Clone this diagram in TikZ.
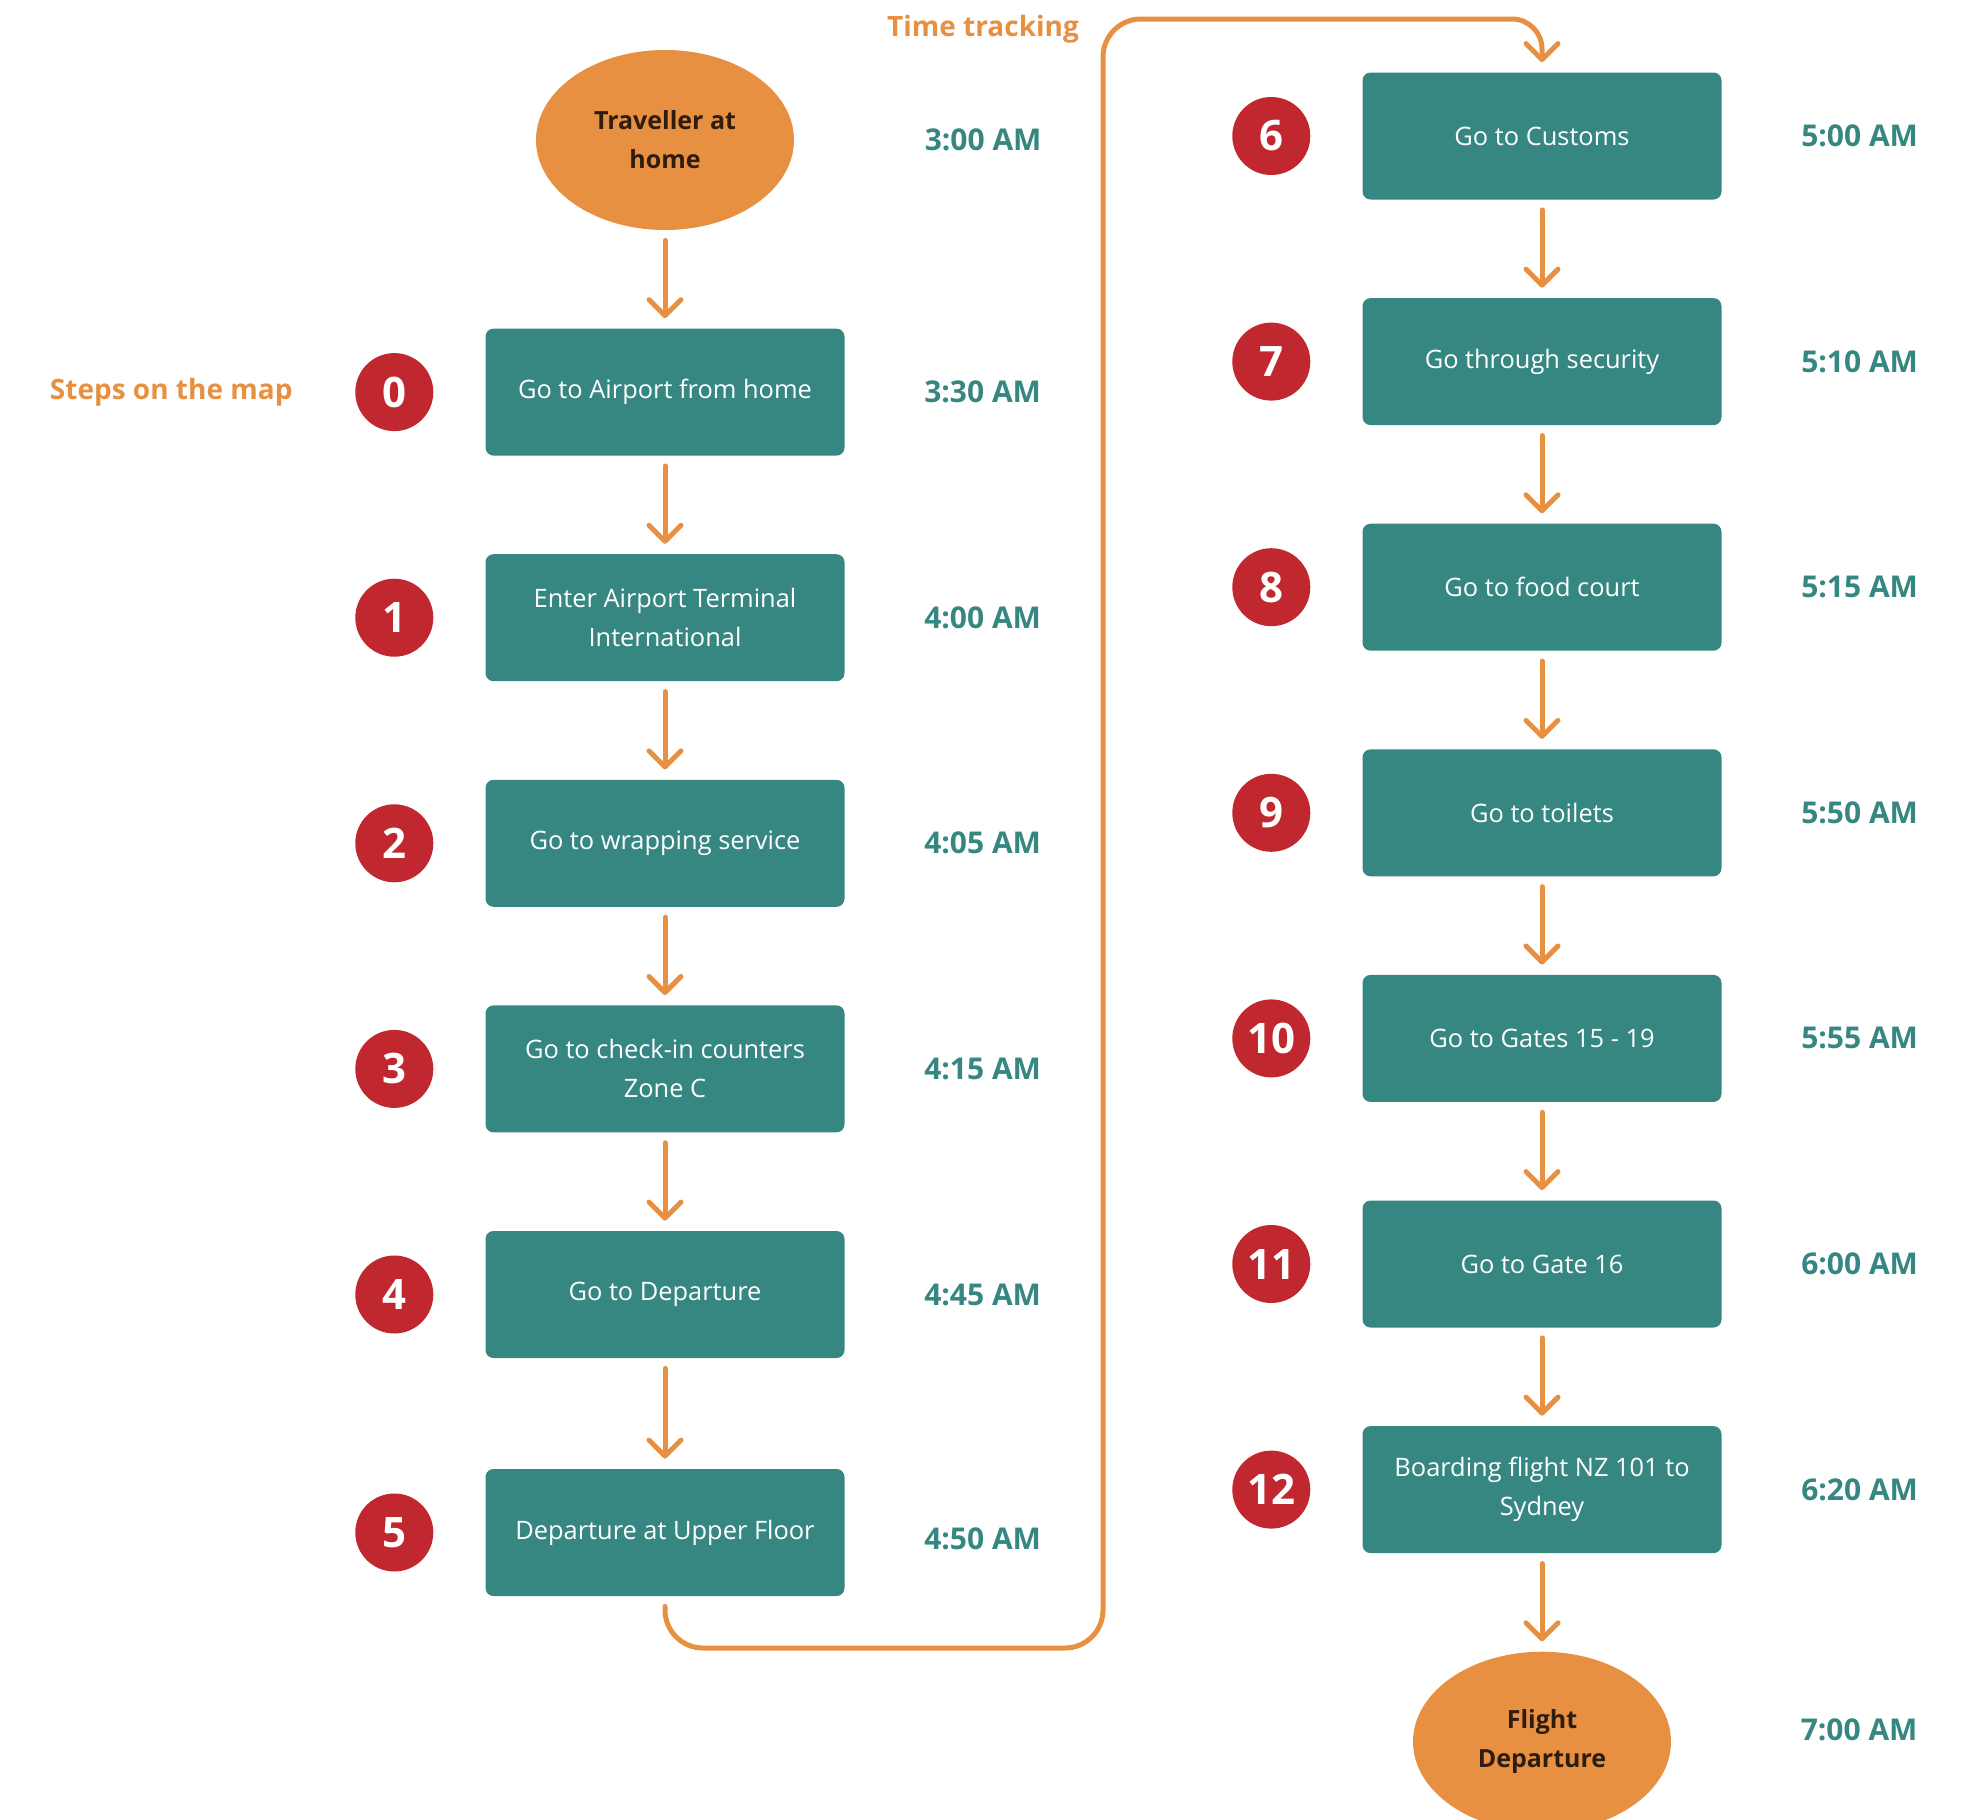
\documentclass[tikz,border=0pt]{standalone}
\usepackage{fontspec}
\setmainfont{Open Sans}
\usepackage{xcolor}
\usepackage{tikz}
\usetikzlibrary{positioning, arrows.meta, shapes.geometric}
\definecolor{stepteal}{RGB}{54,135,129}
\definecolor{pathorange}{RGB}{232,144,66}
\definecolor{numred}{RGB}{193,39,46}
\definecolor{darkbrown}{RGB}{46,28,14}

\begin{document}
\begin{tikzpicture}[
  box/.style={rectangle, fill=stepteal, rounded corners=4pt, minimum width=179.5pt, minimum height=63.5pt, align=center, text=white, font=\fontsize{12.7}{19.5}\selectfont},
  endpoint/.style={ellipse, fill=pathorange, minimum width=129pt, minimum height=90pt, inner sep=0pt, align=center, text=darkbrown, font=\fontsize{12.5}{19.5}\selectfont\bfseries},
  num/.style={circle, fill=numred, minimum size=39pt, inner sep=0pt, text=white, font=\fontsize{21}{21}\selectfont\bfseries},
  clock/.style={inner sep=0pt, text=stepteal, font=\fontsize{15}{15}\selectfont\bfseries},
  heading/.style={inner sep=0pt, text=pathorange, font=\fontsize{14}{14}\selectfont\bfseries},
  flow/.style={draw=pathorange, line width=2.5pt, line cap=round, -{Straight Barb[length=8pt, width=16pt, round]}, shorten <=5pt, shorten >=5pt},
  node distance=48.9pt
]
\useasboundingbox (0,0) rectangle (988.5pt,-910pt);

% left column
\node[endpoint] (home) at (332.5pt,-70pt) {Traveller at\\home};
\node[box, below=of home] (s0) {Go to Airport from home};
\node[box, below=of s0] (s1) {Enter Airport Terminal\\International};
\node[box, below=of s1] (s2) {Go to wrapping service};
\node[box, below=of s2] (s3) {Go to check-in counters\\Zone C};
\node[box, below=of s3] (s4) {Go to Departure};
\node[box, below=55.1pt of s4] (s5) {Departure at Upper Floor};

% right column
\node[box] (s6) at (771pt,-68pt) {Go to Customs};
\node[box, below=of s6] (s7) {Go through security};
\node[box, below=of s7] (s8) {Go to food court};
\node[box, below=of s8] (s9) {Go to toilets};
\node[box, below=of s9] (s10) {Go to Gates 15 - 19};
\node[box, below=of s10] (s11) {Go to Gate 16};
\node[box, below=of s11] (s12) {Boarding flight NZ 101 to\\Sydney};
\node[endpoint, below=of s12] (dep) {Flight\\Departure};

% step numbers
\node[num, left=25.7pt of s0] (n0) {0};
\node[num, left=25.7pt of s1] (n1) {1};
\node[num, left=25.7pt of s2] (n2) {2};
\node[num, left=25.7pt of s3] (n3) {3};
\node[num, left=25.7pt of s4] (n4) {4};
\node[num, left=25.7pt of s5] (n5) {5};
\node[num, left=25.7pt of s6] (n6) {6};
\node[num, left=25.7pt of s7] (n7) {7};
\node[num, left=25.7pt of s8] (n8) {8};
\node[num, left=25.7pt of s9] (n9) {9};
\node[num, left=25.7pt of s10] (n10) {10};
\node[num, left=25.7pt of s11] (n11) {11};
\node[num, left=25.7pt of s12] (n12) {12};

% times
\node[clock, right=65pt of home] (th) {3:00 AM};
\node[clock, right=39.5pt of s0] (t0) {3:30 AM};
\node[clock, right=39.5pt of s1] (t1) {4:00 AM};
\node[clock, right=39.5pt of s2] (t2) {4:05 AM};
\node[clock, right=39.5pt of s3] (t3) {4:15 AM};
\node[clock, right=39.5pt of s4] (t4) {4:45 AM};
\node[clock, right=39.5pt of s5, yshift=-3pt] (t5) {4:50 AM};
\node[clock, right=39.5pt of s6] (t6) {5:00 AM};
\node[clock, right=39.5pt of s7] (t7) {5:10 AM};
\node[clock, right=39.5pt of s8] (t8) {5:15 AM};
\node[clock, right=39.5pt of s9] (t9) {5:50 AM};
\node[clock, right=39.5pt of s10] (t10) {5:55 AM};
\node[clock, right=39.5pt of s11] (t11) {6:00 AM};
\node[clock, right=39.5pt of s12] (t12) {6:20 AM};
\node[clock, right=64.5pt of dep, yshift=5.7pt] (td) {7:00 AM};

% headings
\node[heading, left=31pt of n0] (steps) {Steps on the map};
\node[heading] (track) at (491.5pt,-14.5pt) {Time tracking};

\draw[flow] (home) -- (s0);
\draw[flow] (s0) -- (s1);
\draw[flow] (s1) -- (s2);
\draw[flow] (s2) -- (s3);
\draw[flow] (s3) -- (s4);
\draw[flow] (s4) -- (s5);
\draw[flow] (s6) -- (s7);
\draw[flow] (s7) -- (s8);
\draw[flow] (s8) -- (s9);
\draw[flow] (s9) -- (s10);
\draw[flow] (s10) -- (s11);
\draw[flow] (s11) -- (s12);
\draw[flow] (s12) -- (dep);

% loop from left column to right column
\coordinate (loopb) at (551.5pt,-824pt);
\coordinate (loopt) at (551.5pt,-9.5pt);
\draw[flow, rounded corners=19pt] (s5) |- (loopb) -- (loopt) [rounded corners=15pt] -| (s6);
\end{tikzpicture}
\end{document}
